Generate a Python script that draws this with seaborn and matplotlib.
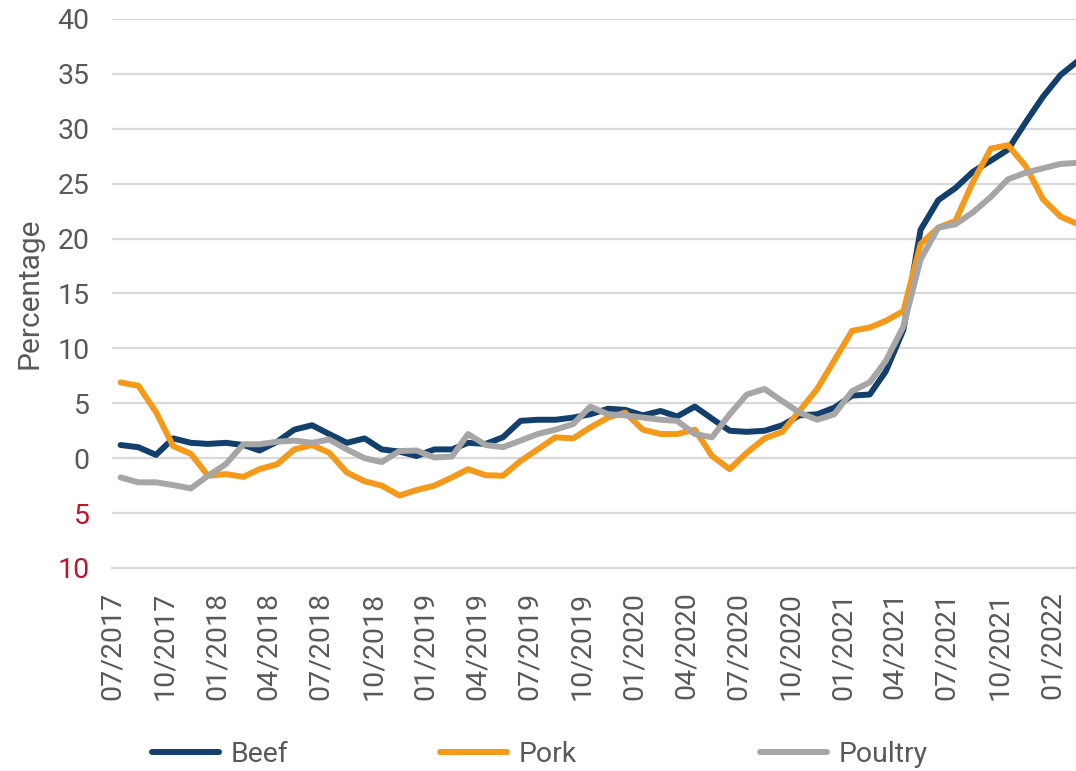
import pandas as pd
import matplotlib.pyplot as plt
import matplotlib.dates as mdates
import seaborn as sns
#------------------------------------------------------------------
# monthly % change, 07/2017 .. 02/2022
start_month = '2017-07-01'
beef = [1.2, 1.0, 0.3, 1.8, 1.4, 1.3, 1.4, 1.2, 0.7, 1.5,
        2.6, 3.0, 2.2, 1.4, 1.8, 0.8, 0.6, 0.2, 0.8, 0.8,
        1.4, 1.3, 1.9, 3.4, 3.5, 3.5, 3.7, 4.0, 4.5, 4.4,
        3.9, 4.3, 3.8, 4.7, 3.6, 2.5, 2.4, 2.5, 3.0, 3.9,
        4.0, 4.6, 5.7, 5.8, 7.9, 11.7, 20.8, 23.5, 24.6, 26.1,
        27.1, 28.1, 30.6, 32.9, 34.9, 36.2]
pork = [6.9, 6.6, 4.2, 1.1, 0.4, -1.6, -1.45, -1.7, -1.0, -0.55,
        0.8, 1.2, 0.5, -1.3, -2.1, -2.5, -3.4, -2.9, -2.5, -1.75,
        -1.0, -1.55, -1.6, -0.25, 0.8, 1.9, 1.8, 2.8, 3.7, 4.15,
        2.6, 2.2, 2.2, 2.6, 0.2, -1.0, 0.5, 1.8, 2.4, 4.3,
        6.3, 8.9, 11.6, 11.9, 12.5, 13.4, 19.5, 21.0, 21.6, 25.2,
        28.2, 28.5, 26.6, 23.6, 22.0, 21.3]
poultry = [-1.75, -2.2, -2.2, -2.45, -2.75, -1.6, -0.55, 1.27, 1.27, 1.5,
           1.6, 1.4, 1.7, 0.8, 0.0, -0.35, 0.65, 0.7, 0.06, 0.15,
           2.2, 1.2, 1.0, 1.6, 2.2, 2.6, 3.1, 4.7, 4.0, 3.9,
           3.7, 3.5, 3.4, 2.2, 1.9, 4.0, 5.8, 6.3, 5.2, 4.15,
           3.5, 4.0, 6.1, 6.9, 8.85, 12.0, 18.1, 21.0, 21.3, 22.4,
           23.8, 25.4, 26.0, 26.4, 26.8, 26.9]
series_names = ['Beef', 'Pork', 'Poultry']
colors = ['#133f6d', '#f4991a', '#a6a6a6']
ytick_values = [-10, -5, 0, 5, 10, 15, 20, 25, 30, 35, 40]
ytick_labels = ['10', '5', '0', '5', '10', '15', '20', '25', '30', '35', '40']
#------------------------------------------------------------------
months = pd.date_range(start_month, periods=len(beef), freq='MS')
df = pd.DataFrame({'month': months + pd.Timedelta(days=15),
                   'Beef': beef, 'Pork': pork, 'Poultry': poultry})
df = df.melt(id_vars='month', var_name='meat', value_name='pct')

sns.set_style('white')
plt.rcParams['font.family'] = ['Roboto', 'DejaVu Sans']
text_color = '#595959'
grid_color = '#d9d9d9'

fig = plt.figure(figsize=(10.76, 7.71), dpi=100)
ax = fig.add_axes([0.1041, 0.2633, 0.8959, 0.7121])

sns.lineplot(data=df, x='month', y='pct', hue='meat', hue_order=series_names,
             palette=dict(zip(series_names, colors)), linewidth=4.3, ax=ax,
             legend=True, solid_capstyle='round', solid_joinstyle='round')

ax.set_ylim(-10, 40)
ax.set_xlim(pd.Timestamp(start_month), pd.Timestamp('2022-02-12'))
ax.set_yticks(ytick_values)
ax.set_yticklabels(ytick_labels)
for lbl, v in zip(ax.get_yticklabels(), ytick_values):
    lbl.set_color('#c0142b' if v < 0 else text_color)
ax.yaxis.grid(True, color=grid_color, linewidth=1.6)
ax.set_axisbelow(True)

ax.xaxis.set_major_locator(mdates.MonthLocator(bymonth=[1, 4, 7, 10]))
ax.xaxis.set_major_formatter(mdates.DateFormatter('%m/%Y'))
ax.tick_params(axis='x', direction='out', length=7, width=1.4, color=grid_color,
               pad=10, labelsize=20.5, labelcolor=text_color, labelrotation=90)
ax.tick_params(axis='y', length=0, pad=16, labelsize=20.5)

for s in ['top', 'right', 'left']:
    ax.spines[s].set_visible(False)
ax.spines['bottom'].set_color(grid_color)
ax.spines['bottom'].set_linewidth(1.6)

ax.set_xlabel('')
ax.set_ylabel('Percentage', fontsize=21.5, color=text_color, labelpad=10)

# legend entries sit at uneven spacing in the original, one small legend each
handles, labels = ax.get_legend_handles_labels()
ax.get_legend().remove()
for h, l, xpos in zip(handles, labels, [0.1413, 0.4089, 0.7063]):
    fig.legend([h], [l], loc='center left', bbox_to_anchor=(xpos, 0.021),
               frameon=False, fontsize=20.5, handlelength=2.35, handletextpad=0.42,
               borderpad=0, borderaxespad=0, labelcolor=text_color)

plt.savefig('out.png', dpi=100)
